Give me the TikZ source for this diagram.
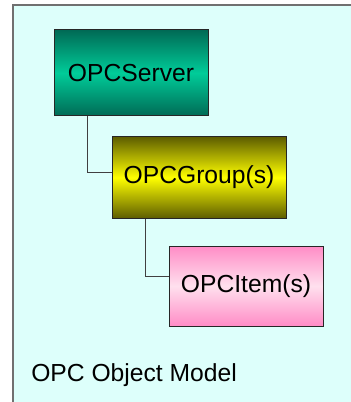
\documentclass[tikz,border=0pt]{standalone}
\usepackage{fontspec}
\setmainfont{Liberation Sans}
\usepackage{tikz}
\usetikzlibrary{positioning}
\usepackage{xcolor}
\definecolor{bgcyan}{HTML}{DDFFFB}
\definecolor{framegray}{HTML}{707070}
\definecolor{tealdark}{HTML}{006A55}
\definecolor{tealmid}{HTML}{00CC99}
\definecolor{olivedark}{HTML}{5E5E00}
\definecolor{olivemid}{HTML}{FFFF00}
\definecolor{pinkedge}{HTML}{FF8CC6}
\definecolor{pinkmid}{HTML}{FFE0EE}

\tikzset{
    objbox/.style={draw=black!85, line width=0.75pt, inner sep=0pt,
        font=\fontsize{18.5}{20}\selectfont},
    link/.style={draw=black!75, line width=0.75pt}
}

\begin{document}
\begin{tikzpicture}[x=0.75pt, y=-0.75pt]
        % Frame
        \useasboundingbox (0, 0) rectangle (350, 402);
        \draw [fill=bgcyan, draw=framegray, line width=1.5pt] (13, 5) rectangle (360, 410);
        % Objects
        \node [objbox, minimum width=115.5pt, minimum height=64.5pt,
            top color=tealdark, bottom color=tealdark, middle color=tealmid] (server) at (131, 73) {OPCServer};
        \node [objbox, minimum width=130.5pt, minimum height=60.75pt,
            top color=olivedark, bottom color=olivedark, middle color=olivemid] (group) at (199, 177.5) {OPCGroup(s)};
        \node [objbox, minimum width=115.5pt, minimum height=60pt,
            top color=pinkedge, bottom color=pinkedge, middle color=pinkmid] (item) at (246, 286) {OPCItem(s)};
        % Lines
        \draw [link] ([xshift=25.5pt]server.south west) |- ([yshift=4.1pt]group.west);
        \draw [link] ([xshift=25.5pt]group.south west) |- ([yshift=7.5pt]item.west);
        % Caption
        \node [anchor=west, inner sep=0pt, font=\fontsize{18.5}{20}\selectfont] (caption) at (31, 375) {OPC Object Model};
    \end{tikzpicture}
\end{document}
